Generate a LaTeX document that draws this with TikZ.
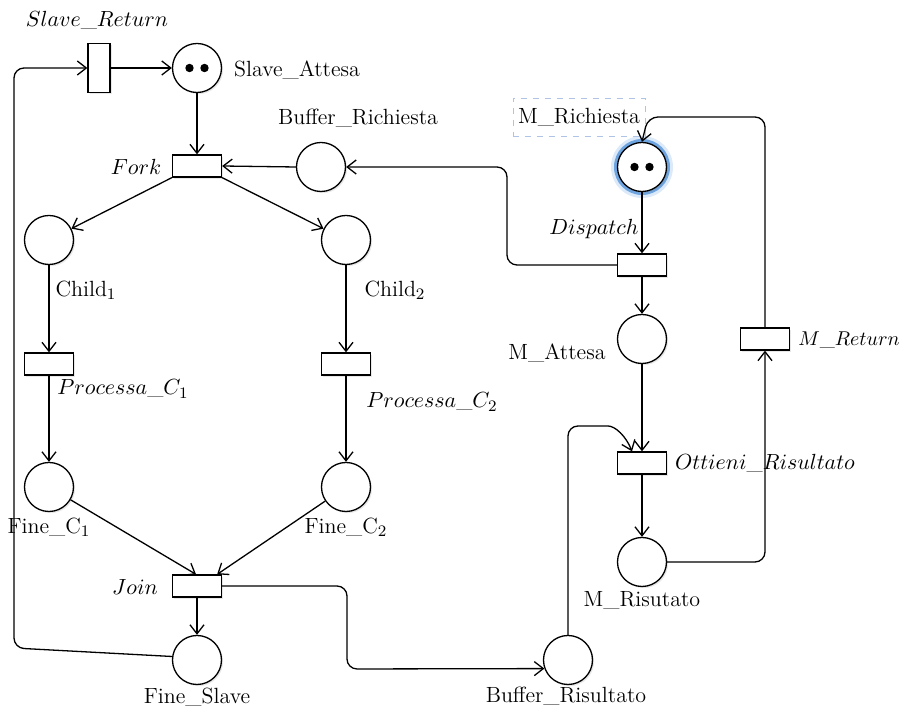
\documentclass[tikz,border=0pt]{standalone}
\usetikzlibrary{arrows.meta,shadows}
\definecolor{glowblue}{RGB}{110,165,225}
\definecolor{dashblue}{RGB}{175,195,230}
\begin{document}
\begin{tikzpicture}[x=0.5pt,y=-0.5pt,
  font=\fontsize{11}{13}\selectfont,
  placenode/.style={circle, draw, line width=0.65pt, fill=white, minimum size=24.5pt, inner sep=0pt,
     drop shadow={opacity=0.18, shadow xshift=0.8pt, shadow yshift=-0.8pt}},
  transnode/.style={rectangle, draw, line width=0.65pt, fill=white, minimum width=24.5pt, minimum height=11pt, inner sep=0pt,
     drop shadow={opacity=0.18, shadow xshift=0.8pt, shadow yshift=-0.8pt}},
  vtransnode/.style={transnode, minimum width=11pt, minimum height=24.5pt},
  flow/.style={draw, line width=0.65pt, rounded corners=5pt, -{Straight Barb[length=4.5pt,width=7pt]}},
  lbl/.style={inner sep=1pt}]
\useasboundingbox (0,0) rectangle (902,710);

% glow of M_Richiesta
\coordinate (mricc) at (642,167);
\fill[glowblue!25] (mricc) circle (15.5pt);
\fill[glowblue] (mricc) circle (14pt);

% places
\node[placenode] (sa) at (197,68) {};
\node[placenode] (brq) at (321,167) {};
\node[placenode] (mric) at (mricc) {};
\node[placenode] (c1) at (49,240) {};
\node[placenode] (c2) at (346,240) {};
\node[placenode] (mat) at (642,339) {};
\node[placenode] (fc1) at (49,487) {};
\node[placenode] (fc2) at (346,487) {};
\node[placenode] (mris) at (642,562) {};
\node[placenode] (fsl) at (197,660) {};
\node[placenode] (bris) at (568,660) {};

% tokens
\fill ([xshift=-3.75pt]sa.center) circle (2.1pt);
\fill ([xshift=3.75pt]sa.center) circle (2.1pt);
\fill ([xshift=-3.75pt]mric.center) circle (2.1pt);
\fill ([xshift=3.75pt]mric.center) circle (2.1pt);

% transitions
\node[vtransnode] (sret) at (99,68) {};
\node[transnode] (fork) at (197,166) {};
\node[transnode] (disp) at (642,265) {};
\node[transnode] (pc1) at (49,364) {};
\node[transnode] (pc2) at (346,364) {};
\node[transnode] (mret) at (765,339) {};
\node[transnode] (ott) at (642,463) {};
\node[transnode] (join) at (197,586) {};

% labels
\node[lbl] (lsret) at (97,20) {$Slave\_Return$};
\node[lbl] (lsa) at (297,70) {Slave\_Attesa};
\node[lbl] (lfork) at (136,167) {$Fork$};
\node[lbl] (lbrq) at (358,118) {Buffer\_Richiesta};
\node[lbl, draw=dashblue, dashed, line width=0.4pt, minimum width=66pt, minimum height=19pt] (lmric) at (579,117) {M\_Richiesta};
\node[lbl] (ldisp) at (594,229) {$Dispatch$};
\node[lbl] (lc1) at (86,290) {Child$_1$};
\node[lbl] (lc2) at (395,290) {Child$_2$};
\node[lbl] (lpc1) at (123,389) {$Processa\_C_1$};
\node[lbl] (lpc2) at (432,402) {$Processa\_C_2$};
\node[lbl] (lmat) at (557,353) {M\_Attesa};
\node[lbl, font=\fontsize{10}{12}\selectfont] (lmret) at (849,340) {$M\_Return$};
\node[lbl] (lott) at (765,463) {$Ottieni\_Risultato$};
\node[lbl] (lmris) at (642,600) {M\_Risutato};
\node[lbl] (lfc1) at (49,527) {Fine\_C$_1$};
\node[lbl] (lfc2) at (346,527) {Fine\_C$_2$};
\node[lbl] (ljoin) at (135,587) {$Join$};
\node[lbl] (lfsl) at (197,697) {Fine\_Slave};
\node[lbl] (lbris) at (566,696) {Buffer\_Risultato};

% connectors
\draw[flow] (sret.east) -- (sa.west);
\draw[flow] (sa.south) -- (fork.north);
\draw[flow] (brq.west) -- (fork.east);
\draw[flow] (disp.west) -- (507,265) -- (507,167) -- (brq.east);
\draw[flow] (fork.south west) -- (c1);
\draw[flow] (fork.south east) -- (c2);
\draw[flow] (c1.south) -- (pc1.north);
\draw[flow] (c2.south) -- (pc2.north);
\draw[flow] (pc1.south) -- (fc1.north);
\draw[flow] (pc2.south) -- (fc2.north);
\draw[flow] (fc1) -- ([xshift=-0.5pt]join.north);
\draw[flow] (fc2) -- ([xshift=-2.5pt]join.north east);
\draw[flow] (join.south) -- (fsl.north);
\draw[flow] (fsl.172) -- (14,648) -- (14,68) -- (sret.west);
\draw[flow] (join.east) -- (347,586) -- (347,669) -- (bris.200);
\draw[flow] (mric.south) -- (disp.north);
\draw[flow] (disp.south) -- (mat.north);
\draw[flow] (mat.south) -- (ott.north);
\draw[flow] (ott.south) -- (mris.north);
\draw[flow] (mris.east) -- (765,562) -- (mret.south);
\draw[flow] (mret.north) -- (765,117) -- (648,117) -- (mric.north);
\draw[flow] (bris.north) -- (568,426) -- (598,426) .. controls (615,426) and (626,436) .. ([xshift=-5pt]ott.north);
\end{tikzpicture}
\end{document}
